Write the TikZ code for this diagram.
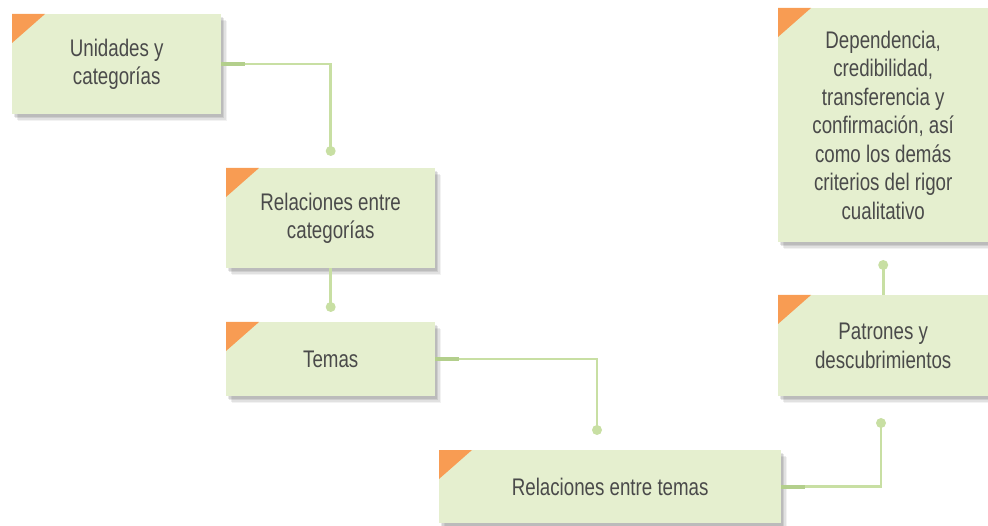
\documentclass[tikz,border=0pt]{standalone}
\usepackage{fontspec}
\setmainfont{Liberation Sans}[FakeStretch=0.78]
\usepackage{xcolor}
\usepackage{tikz}
\usetikzlibrary{shadows}
\definecolor{boxgreen}{HTML}{E5EFCF}
\definecolor{linkgreen}{HTML}{C8DFA3}
\definecolor{stubgreen}{HTML}{B3CF8C}
\definecolor{corner}{HTML}{F89C53}
\definecolor{txtgray}{HTML}{4A4A4A}
\tikzset{
  caja/.style={fill=boxgreen, text=txtgray, align=center, anchor=north west, inner sep=0pt,
    font=\fontsize{24}{28.5}\selectfont,
    drop shadow={shadow xshift=6pt, shadow yshift=-7pt, fill=black, opacity=.05},
    drop shadow={shadow xshift=4.5pt, shadow yshift=-5.5pt, fill=black, opacity=.07},
    drop shadow={shadow xshift=3pt, shadow yshift=-4pt, fill=black, opacity=.09},
    drop shadow={shadow xshift=1.5pt, shadow yshift=-2.5pt, fill=black, opacity=.09}},
  con/.style={line width=2.6pt, draw=linkgreen},
  stub/.style={line width=4pt, draw=stubgreen},
  punto/.style={fill=linkgreen},
}

\begin{document}
\begin{tikzpicture}[x=1pt,y=-1pt]
  \useasboundingbox (0,0) rectangle (988,526);

  \node[caja, minimum width=209, minimum height=100] (unidades) at (12,14) {Unidades y\\categorías};
  \node[caja, minimum width=209, minimum height=100] (relcat) at (226,168) {Relaciones entre\\categorías};
  \node[caja, minimum width=209, minimum height=74] (temas) at (226,322) {Temas};
  \node[caja, minimum width=342, minimum height=73] (reltemas) at (439,450) {Relaciones entre temas};
  \node[caja, minimum width=210, minimum height=101] (patrones) at (778,295) {Patrones y\\descubrimientos};
  \node[caja, minimum width=210, minimum height=234] (criterios) at (778,8)
    {Dependencia,\\credibilidad,\\transferencia y\\confirmación, así\\como los demás\\criterios del rigor\\cualitativo};

  \foreach \n in {unidades,relcat,temas,reltemas,patrones,criterios}
    \fill[corner] (\n.north west) -- ++(33,0) -- ++(-33,29) -- cycle;

  % end points of the connectors
  \coordinate (d1) at (relcat.north |- 0,151);
  \coordinate (d2) at (relcat.south |- 0,307);
  \coordinate (d3) at (597,430);
  \coordinate (d4) at (881,423);
  \coordinate (d5) at (patrones.north |- 0,265);

  \draw[con] (unidades.east) -| (d1);
  \draw[con] (relcat.south) -- (d2);
  \draw[con] (temas.east) -| (d3);
  \draw[con] (reltemas.east) -| (d4);
  \draw[con] (patrones.north) -- (d5);
  \draw[stub] (unidades.east) -- ++(24,0);
  \draw[stub] (temas.east) -- ++(24,0);
  \draw[stub] (reltemas.east) -- ++(24,0);
  \foreach \d in {d1,d2,d3,d4,d5}
    \fill[punto] (\d) circle (5);
\end{tikzpicture}
\end{document}
